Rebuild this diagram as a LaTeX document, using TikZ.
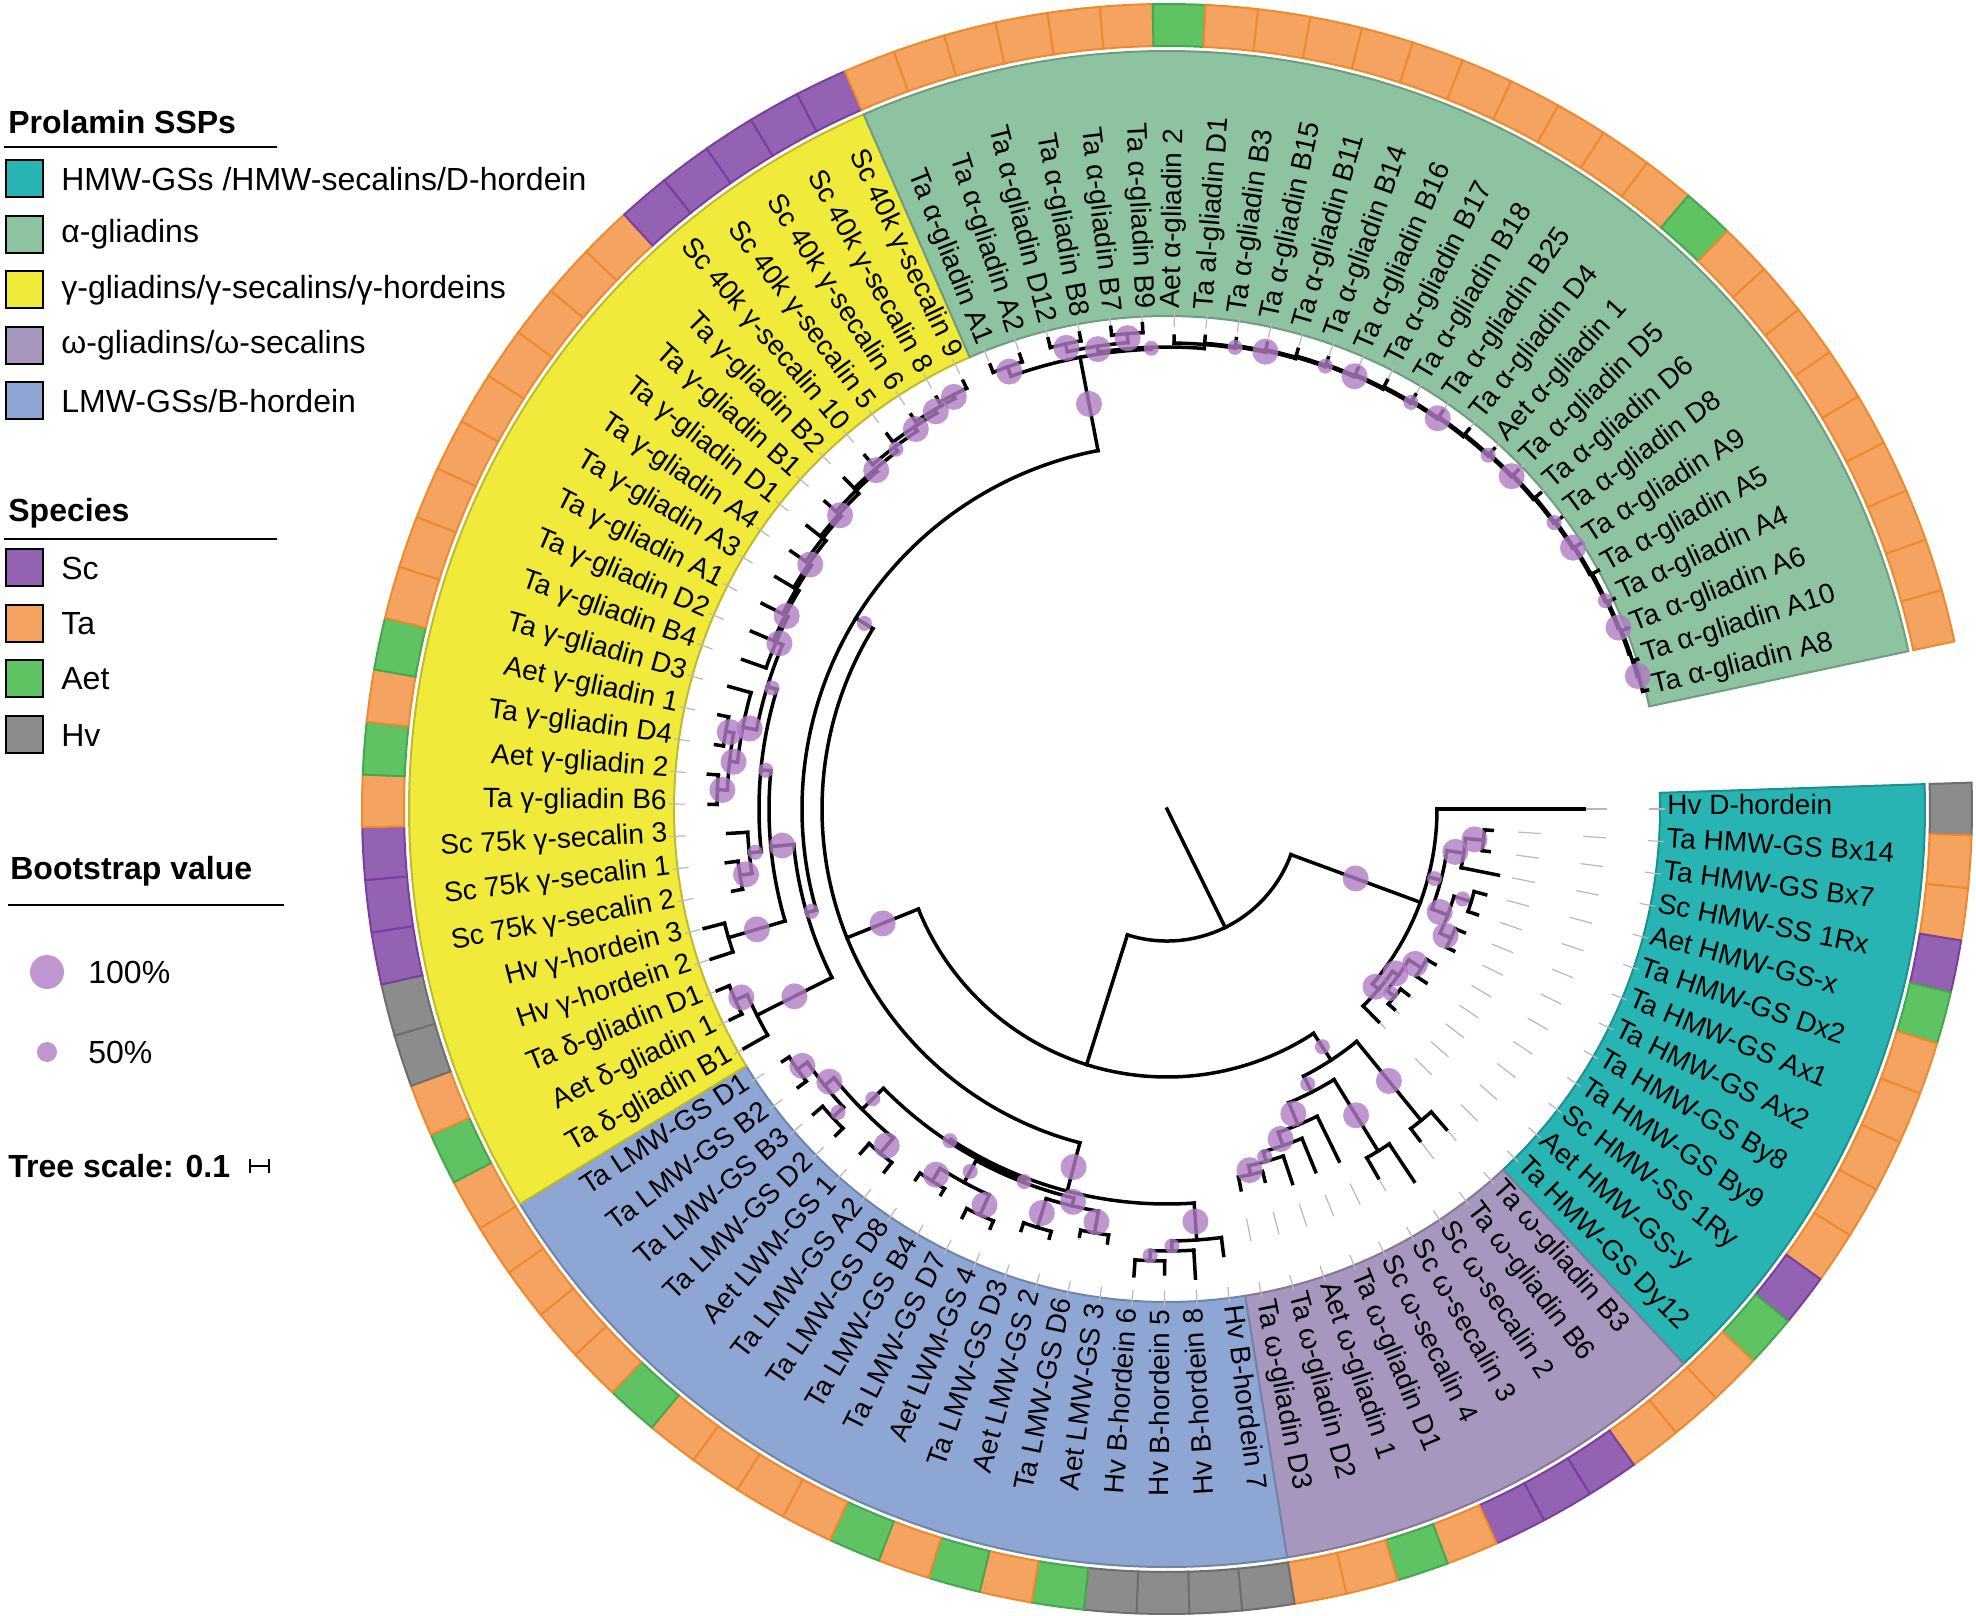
\documentclass[tikz,border=0pt]{standalone}
\usepackage{fontspec}
\setmainfont{Liberation Sans}
\usetikzlibrary{calc}
\usepackage{xcolor}

\definecolor{hmw}{HTML}{28B4B2}
\definecolor{alp}{HTML}{8DC3A0}
\definecolor{gam}{HTML}{F0EA3A}
\definecolor{ome}{HTML}{A796BE}
\definecolor{lmw}{HTML}{8DA6D4}
\definecolor{cSc}{HTML}{9462B2}
\definecolor{cTa}{HTML}{F4A460}
\definecolor{cAet}{HTML}{5FC364}
\definecolor{cHv}{HTML}{8C8C8C}
\definecolor{bSc}{HTML}{7A3F9E}
\definecolor{bTa}{HTML}{EE8A2E}
\definecolor{bAet}{HTML}{44A84E}
\definecolor{bHv}{HTML}{6E6E6E}
\definecolor{bsc}{HTML}{B07CC4}

\pgfdeclarelayer{bg}
\pgfdeclarelayer{fg}
\pgfsetlayers{bg,main,fg}

\tikzset{
  branch/.style={line width=1.75pt, line cap=rect},
  helper/.style={gray!55, line width=0.6pt, dash pattern=on 11.5pt off 21pt, dash phase=3.5pt},
  lab/.style={inner sep=0pt, font=\fontsize{14}{16}\selectfont},
  legtext/.style={anchor=west, inner sep=0pt, font=\fontsize{16}{19}\selectfont},
  legtitle/.style={anchor=west, inner sep=0pt, font=\bfseries\fontsize{16}{19}\selectfont},
  legbox/.style={draw=black, line width=1pt},
  bsdot/.style={fill=bsc, fill opacity=.8},
}

\def\dA{3.762}
\newcommand\setv[3]{\expandafter\xdef\csname tr@#1@#2\endcsname{#3}}
\newcommand\getv[2]{\csname tr@#1@#2\endcsname}

% leaf: index, tip radius
\newcommand\leaf[2]{%
  \pgfmathsetmacro\lfa{-\dA*#1}%
  \setv{a}{L#1}{\lfa}\setv{r}{L#1}{#2}\setv{b}{L#1}{0}%
  \draw[helper] (\lfa:498) -- (\lfa:#2);%
}

% clade: name, radius, bootstrap (0/1/2), children
\newcommand\clade[4]{%
  \gdef\cfirst{}%
  \foreach \kid in {#4}{%
    \edef\chA{\getv{a}{\kid}}\edef\chR{\getv{r}{\kid}}\edef\chB{\getv{b}{\kid}}%
    \draw[branch] (\chA:#2) -- (\chA:\chR);
    \ifnum\chB>0
      \ifnum\chB=2 \def\bsr{13}\else\def\bsr{7.5}\fi
      \pgfmathsetmacro\bsm{(#2+\chR)/2}%
      \begin{pgfonlayer}{fg}\fill[bsdot] (\chA:\bsm) circle[radius=\bsr];\end{pgfonlayer}%
    \fi
    \ifx\cfirst\empty\xdef\cfirst{\chA}\fi
    \xdef\clast{\chA}%
  }%
  \draw[branch] (\cfirst:#2) arc[start angle=\cfirst, end angle=\clast, radius=#2];
  \pgfmathsetmacro\mda{(\cfirst+\clast)/2}%
  \setv{a}{#1}{\mda}\setv{r}{#1}{#2}\setv{b}{#1}{#3}%
}

% sector: colour, first leaf, last leaf
\newcommand\sector[3]{%
  \pgfmathsetmacro\secA{-\dA*#2+\dA/2}\pgfmathsetmacro\secB{-\dA*#3-\dA/2}%
  \filldraw[fill=#1, draw=#1!80!black, line width=1pt] (\secA:493) arc[start angle=\secA, end angle=\secB, radius=493]
    -- (\secB:758) arc[start angle=\secB, end angle=\secA, radius=758] -- cycle;
}

\begin{document}
\begin{tikzpicture}[x=0.5pt, y=0.5pt]
  \useasboundingbox (-1167,-807) rectangle (809,809);
  \begin{pgfonlayer}{bg}
    \fill[white] (-1167,-807) rectangle (809,809);
  \end{pgfonlayer}

  % Clades
  \sector{hmw}{0}{12}
  \sector{ome}{13}{21}
  \sector{lmw}{22}{39}
  \sector{gam}{40}{65}
  \sector{alp}{66}{92}

  % Species ring and labels
  \foreach \i/\spc/\ltx in {
    0/Hv/Hv D-hordein, 1/Ta/Ta HMW-GS Bx14, 2/Ta/Ta HMW-GS Bx7, 3/Sc/Sc HMW-SS 1Rx,
    4/Aet/Aet HMW-GS-x, 5/Ta/Ta HMW-GS Dx2, 6/Ta/Ta HMW-GS Ax1, 7/Ta/Ta HMW-GS Ax2,
    8/Ta/Ta HMW-GS By8, 9/Ta/Ta HMW-GS By9, 10/Sc/Sc HMW-SS 1Ry, 11/Aet/Aet HMW-GS-y,
    12/Ta/Ta HMW-GS Dy12, 13/Ta/Ta ω-gliadin B3, 14/Ta/Ta ω-gliadin B6, 15/Sc/Sc ω-secalin 2,
    16/Sc/Sc ω-secalin 3, 17/Sc/Sc ω-secalin 4, 18/Ta/Ta ω-gliadin D1, 19/Aet/Aet ω-gliadin 1,
    20/Ta/Ta ω-gliadin D2, 21/Ta/Ta ω-gliadin D3, 22/Hv/Hv B-hordein 7, 23/Hv/Hv B-hordein 8,
    24/Hv/Hv B-hordein 5, 25/Hv/Hv B-hordein 6, 26/Aet/Aet LMW-GS 3, 27/Ta/Ta LMW-GS D6,
    28/Aet/Aet LMW-GS 2, 29/Ta/Ta LMW-GS D3, 30/Aet/Aet LWM-GS 4, 31/Ta/Ta LMW-GS D7,
    32/Ta/Ta LMW-GS B4, 33/Ta/Ta LMW-GS D8, 34/Ta/Ta LMW-GS A2, 35/Aet/Aet LWM-GS 1,
    36/Ta/Ta LMW-GS D2, 37/Ta/Ta LMW-GS B3, 38/Ta/Ta LMW-GS B2, 39/Ta/Ta LMW-GS D1,
    40/Ta/Ta δ-gliadin B1, 41/Aet/Aet δ-gliadin 1, 42/Ta/Ta δ-gliadin D1, 43/Hv/Hv γ-hordein 2,
    44/Hv/Hv γ-hordein 3, 45/Sc/Sc 75k γ-secalin 2, 46/Sc/Sc 75k γ-secalin 1, 47/Sc/Sc 75k γ-secalin 3,
    48/Ta/Ta γ-gliadin B6, 49/Aet/Aet γ-gliadin 2, 50/Ta/Ta γ-gliadin D4, 51/Aet/Aet γ-gliadin 1,
    52/Ta/Ta γ-gliadin D3, 53/Ta/Ta γ-gliadin B4, 54/Ta/Ta γ-gliadin D2, 55/Ta/Ta γ-gliadin A1,
    56/Ta/Ta γ-gliadin A3, 57/Ta/Ta γ-gliadin A4, 58/Ta/Ta γ-gliadin D1, 59/Ta/Ta γ-gliadin B1,
    60/Ta/Ta γ-gliadin B2, 61/Sc/Sc 40k γ-secalin 10, 62/Sc/Sc 40k γ-secalin 5, 63/Sc/Sc 40k γ-secalin 6,
    64/Sc/Sc 40k γ-secalin 8, 65/Sc/Sc 40k γ-secalin 9, 66/Ta/Ta α-gliadin A1, 67/Ta/Ta α-gliadin A2,
    68/Ta/Ta α-gliadin D12, 69/Ta/Ta α-gliadin B8, 70/Ta/Ta α-gliadin B7, 71/Ta/Ta α-gliadin B9,
    72/Aet/Aet α-gliadin 2, 73/Ta/Ta al-gliadin D1, 74/Ta/Ta α-gliadin B3, 75/Ta/Ta α-gliadin B15,
    76/Ta/Ta α-gliadin B11, 77/Ta/Ta α-gliadin B14, 78/Ta/Ta α-gliadin B16, 79/Ta/Ta α-gliadin B17,
    80/Ta/Ta α-gliadin B18, 81/Ta/Ta α-gliadin B25, 82/Ta/Ta α-gliadin D4, 83/Aet/Aet α-gliadin 1,
    84/Ta/Ta α-gliadin D5, 85/Ta/Ta α-gliadin D6, 86/Ta/Ta α-gliadin D8, 87/Ta/Ta α-gliadin A9,
    88/Ta/Ta α-gliadin A5, 89/Ta/Ta α-gliadin A4, 90/Ta/Ta α-gliadin A6, 91/Ta/Ta α-gliadin A10,
    92/Ta/Ta α-gliadin A8}{
    \pgfmathsetmacro\lfa{-\dA*\i}
    \pgfmathsetmacro\rgA{\lfa-\dA/2}\pgfmathsetmacro\rgB{\lfa+\dA/2}
    \filldraw[fill=c\spc, draw=b\spc, line width=1pt] (\rgA:763) arc[start angle=\rgA, end angle=\rgB, radius=763]
      -- (\rgB:805) arc[start angle=\rgB, end angle=\rgA, radius=805] -- cycle;
    \ifnum\i<23
      \node[lab, anchor=mid west, rotate=\lfa] (lab\i) at (\lfa:500) {\ltx};
    \else\ifnum\i>71
      \node[lab, anchor=mid west, rotate=\lfa] (lab\i) at (\lfa:500) {\ltx};
    \else
      \pgfmathsetmacro\lrot{\lfa+180}
      \node[lab, anchor=mid east, rotate=\lrot] (lab\i) at (\lfa:500) {\ltx};
    \fi\fi
  }

  % HMW
  \leaf{0}{417}
  \leaf{1}{326}\leaf{2}{325}\leaf{3}{338}\leaf{4}{330}\leaf{5}{328}\leaf{6}{322}\leaf{7}{320}
  \leaf{8}{310}\leaf{9}{312}\leaf{10}{305}\leaf{11}{303}\leaf{12}{300}
  \clade{P1}{318}{2}{L1,L2}
  \clade{Q1}{300}{2}{P1,L3}
  \clade{P2}{318}{1}{L4,L5}
  \clade{P3}{312}{2}{L6,L7}
  \clade{Q2}{300}{2}{P2,P3}
  \clade{Hx}{283}{1}{Q1,Q2}
  \clade{P4}{300}{2}{L8,L9}
  \clade{P5}{295}{1}{L10,L11}
  \clade{Q3}{285}{2}{P4,P5}
  \clade{Hy}{278}{2}{Q3,L12}
  \clade{N1}{270}{2}{L0,Hx,Hy}

  % omega
  \leaf{13}{425}\leaf{14}{417}\leaf{15}{447}\leaf{16}{425}\leaf{17}{392}
  \leaf{18}{392}\leaf{19}{395}\leaf{20}{385}\leaf{21}{388}
  \clade{Og}{402}{2}{L13,L14}
  \clade{Op}{402}{2}{L15,L16}
  \clade{Oa}{375}{2}{L20,L21}
  \clade{Ob}{366}{1}{L19,Oa}
  \clade{Oc}{356}{2}{L18,Ob}
  \clade{Od}{342}{2}{L17,Oc}
  \clade{Oe}{318}{1}{Op,Od}
  \clade{O1}{300}{1}{Og,Oe}

  % LMW
  \leaf{22}{450}\leaf{23}{470}\leaf{24}{465}\leaf{25}{468}\leaf{26}{438}\leaf{27}{436}
  \leaf{28}{445}\leaf{29}{446}\leaf{30}{455}\leaf{31}{457}\leaf{32}{447}\leaf{33}{448}
  \leaf{34}{460}\leaf{35}{461}\leaf{36}{465}\leaf{37}{467}\leaf{38}{462}\leaf{39}{460}
  \clade{Hb1}{452}{1}{L24,L25}
  \clade{Hb2}{442}{1}{L23,Hb1}
  \clade{Hb}{432}{2}{L22,Hb2}
  \clade{Pa}{430}{2}{L26,L27}
  \clade{Pb}{438}{2}{L28,L29}
  \clade{Qa}{408}{2}{Pa,Pb}
  \clade{Pc}{447}{2}{L30,L31}
  \clade{Pd}{440}{2}{L32,L33}
  \clade{Qb}{425}{1}{Pc,Pd}
  \clade{Qc}{400}{1}{Qa,Qb}
  \clade{Pe}{448}{2}{L34,L35}
  \clade{Pf}{455}{1}{L36,L37}
  \clade{Pg}{452}{2}{L38,L39}
  \clade{Qd}{440}{2}{Pf,Pg}
  \clade{Qe}{428}{1}{Pe,Qd}
  \clade{Qf}{398}{1}{Qc,Qe}
  \clade{LMW}{395}{2}{Qf,Hb}

  % gamma
  \leaf{40}{486}\leaf{41}{485}\leaf{42}{485}\leaf{43}{480}\leaf{44}{478}
  \leaf{45}{442}\leaf{46}{444}\leaf{47}{440}
  \leaf{48}{458}\leaf{49}{460}\leaf{50}{456}\leaf{51}{458}\leaf{52}{455}\leaf{53}{450}
  \leaf{54}{452}\leaf{55}{454}\leaf{56}{455}\leaf{57}{456}\leaf{58}{458}\leaf{59}{460}
  \leaf{60}{462}\leaf{61}{465}\leaf{62}{468}\leaf{63}{470}\leaf{64}{472}\leaf{65}{474}
  \clade{Dp}{472}{2}{L41,L42}
  \clade{Dd}{459}{2}{Dp,L40}
  \clade{Hg}{457}{2}{L43,L44}
  \clade{S1}{432}{2}{L45,L46}
  \clade{S75}{420}{1}{S1,L47}
  \clade{g1}{450}{2}{L48,L49}
  \clade{g2}{448}{2}{L50,L51}
  \clade{g3}{440}{2}{g1,g2}
  \clade{g4}{432}{2}{g3,L52}
  \clade{c64}{466}{2}{L64,L65}
  \clade{c63}{462}{2}{L63,c64}
  \clade{c62}{458}{2}{L62,c63}
  \clade{c61}{453}{1}{L61,c62}
  \clade{c60}{448}{2}{L60,c61}
  \clade{c59}{445}{0}{L59,c60}
  \clade{c58}{441}{2}{L58,c59}
  \clade{c57}{438}{0}{L57,c58}
  \clade{c56}{434}{2}{L56,c57}
  \clade{c55}{431}{0}{L55,c56}
  \clade{c54}{428}{2}{L54,c55}
  \clade{c53}{425}{2}{L53,c54}
  \clade{Gu}{418}{1}{g4,c53}
  \clade{Gv}{408}{1}{Gu,S75}
  \clade{Gw}{398}{2}{Gv,Hg}
  \clade{Gam}{375}{1}{Gw,Dd}

  % alpha
  \leaf{66}{478}\leaf{67}{478}\leaf{68}{485}\leaf{69}{484}\leaf{70}{485}\leaf{71}{486}
  \clade{A12}{470}{2}{L66,L67}
  \clade{a1}{476}{2}{L68,L69}
  \clade{a2}{477}{2}{L70,L71}
  \clade{At}{468}{2}{a1,a2}
  \leaf{91}{494}\leaf{92}{495}
  \clade{R91}{490}{2}{L91,L92}
  \foreach \k in {90,89,...,72}{
    \pgfmathsetmacro\kr{466+(\k-72)*1.25}
    \pgfmathsetmacro\kt{\kr+7}
    \pgfmathtruncatemacro\knx{\k+1}
    \pgfmathtruncatemacro\kbs{mod(\k,3)}
    \leaf{\k}{\kt}
    \clade{R\k}{\kr}{\kbs}{L\k,R\knx}
  }
  \clade{Ar}{462}{1}{At,R72}
  \clade{Alpha}{460}{2}{A12,Ar}

  % backbone
  \clade{G}{365}{1}{Gam,Alpha}
  \clade{X}{345}{2}{G,LMW}
  \clade{N2}{268}{0}{X,O1}
  \clade{N0}{132}{0}{N2,N1}
  \edef\rootA{\getv{a}{N0}}
  \draw[branch] (0,0) -- (\rootA:132);

  % Legend
  \node[legtitle] (tprol) at (-1159,687) {Prolamin SSPs};
  \draw[line width=1pt] (-1163,662) -- (-890,662);
  \filldraw[fill=hmw, legbox] (-1161,611.5) rectangle (-1124,648.5);
  \node[legtext] (phmw) at (-1106,630) {HMW-GSs /HMW-secalins/D-hordein};
  \filldraw[fill=alp, legbox] (-1161,556) rectangle (-1124,593);
  \node[legtext] (palp) at (-1106,574.5) {α-gliadins};
  \filldraw[fill=gam, legbox] (-1161,500.5) rectangle (-1124,537.5);
  \node[legtext] (pgam) at (-1106,519) {γ-gliadins/γ-secalins/γ-hordeins};
  \filldraw[fill=ome, legbox] (-1161,445) rectangle (-1124,482);
  \node[legtext] (pome) at (-1106,463.5) {ω-gliadins/ω-secalins};
  \filldraw[fill=lmw, legbox] (-1161,389.5) rectangle (-1124,426.5);
  \node[legtext] (plmw) at (-1106,408) {LMW-GSs/B-hordein};

  \node[legtitle] (tspec) at (-1159,296) {Species};
  \draw[line width=1pt] (-1163,270) -- (-890,270);
  \filldraw[fill=cSc, legbox] (-1161,222.5) rectangle (-1124,259.5);
  \node[legtext] (ssc) at (-1106,241) {Sc};
  \filldraw[fill=cTa, legbox] (-1161,166.5) rectangle (-1124,203.5);
  \node[legtext] (sta) at (-1106,185) {Ta};
  \filldraw[fill=cAet, legbox] (-1161,111.5) rectangle (-1124,148.5);
  \node[legtext] (saet) at (-1106,130) {Aet};
  \filldraw[fill=cHv, legbox] (-1161,55.5) rectangle (-1124,92.5);
  \node[legtext] (shv) at (-1106,74) {Hv};

  \node[legtitle] (tboot) at (-1157,-62) {Bootstrap value};
  \draw[line width=1pt] (-1159,-96) -- (-883,-96);
  \fill[bsdot] (-1120,-163) circle[radius=17];
  \node[legtext] (bhigh) at (-1079,-163) {100\%};
  \fill[bsdot] (-1120,-243) circle[radius=10];
  \node[legtext] (blow) at (-1079,-243) {50\%};

  \node[legtitle] (tscale) at (-1159,-357) {Tree scale: 0.1};
  \draw[line width=1.2pt] (-917,-357) -- (-898,-357);
  \draw[line width=1.2pt] (-917,-350) -- (-917,-364);
  \draw[line width=1.2pt] (-898,-350) -- (-898,-364);
\end{tikzpicture}
\end{document}
